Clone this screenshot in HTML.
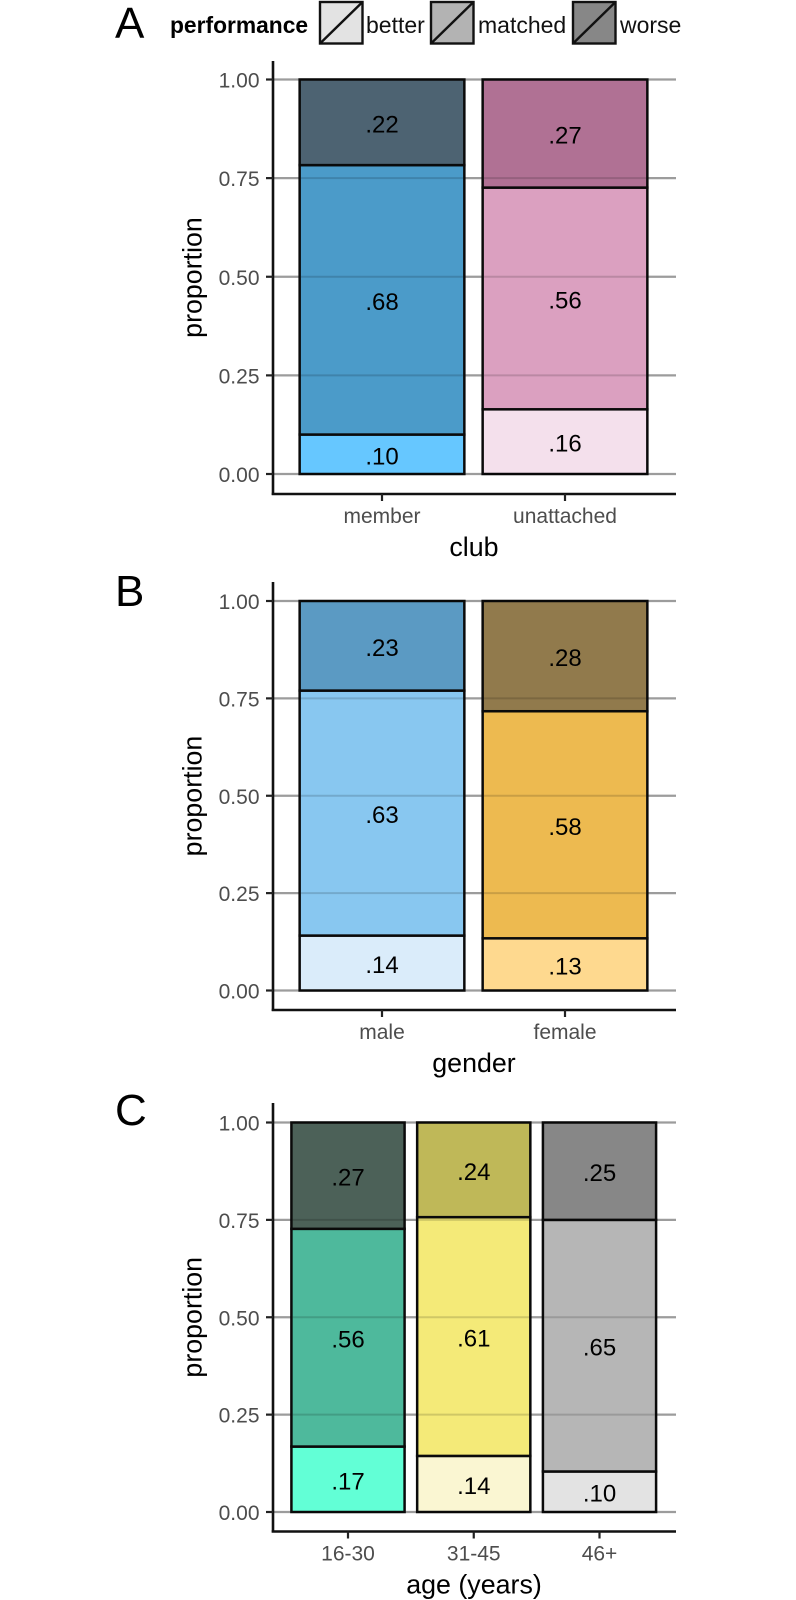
<!DOCTYPE html>
<html lang="en">
<head>
<meta charset="utf-8">
<title>Performance proportions by club, gender and age</title>
<style>
html,body{margin:0;padding:0;background:#fff;}
svg{display:block;font-family:"Liberation Sans",Arial,sans-serif;}
</style>
</head>
<body>
<svg id="chart" xmlns="http://www.w3.org/2000/svg" width="796" height="1600" viewBox="0 0 796 1600">
  <rect x="0" y="0" width="796" height="1600" fill="#ffffff"/>
  <g>
    <text x="170" y="33" font-size="22.8" font-weight="bold" fill="#000">performance</text>
    <g>
      <rect x="320" y="2" width="42.5" height="41.5" fill="#e3e3e3" stroke="#111" stroke-width="2.4"/>
      <line x1="320" y1="43.5" x2="362.5" y2="2" stroke="#111" stroke-width="2.4"/>
      <text x="366" y="33" font-size="23" fill="#111">better</text>
    </g>
    <g>
      <rect x="431" y="2" width="42.5" height="41.5" fill="#b3b3b3" stroke="#111" stroke-width="2.4"/>
      <line x1="431" y1="43.5" x2="473.5" y2="2" stroke="#111" stroke-width="2.4"/>
      <text x="478" y="33" font-size="23" fill="#111">matched</text>
    </g>
    <g>
      <rect x="573" y="2" width="42.5" height="41.5" fill="#878787" stroke="#111" stroke-width="2.4"/>
      <line x1="573" y1="43.5" x2="615.5" y2="2" stroke="#111" stroke-width="2.4"/>
      <text x="620" y="33" font-size="23" fill="#111">worse</text>
    </g>
  </g>
</svg>
<script>
// Tick labels shared by all panels
const yTickValues = [0, 0.25, 0.5, 0.75, 1];
const yTickLabels = ["0.00", "0.25", "0.50", "0.75", "1.00"];

// Panel A: club
const clubCategories = ["member", "unattached"];
const clubBetter = [0.100, 0.164];
const clubMatched = [0.683, 0.562];
const clubWorse = [0.217, 0.274];

// Panel B: gender
const genderCategories = ["male", "female"];
const genderBetter = [0.141, 0.134];
const genderMatched = [0.629, 0.583];
const genderWorse = [0.230, 0.283];

// Panel C: age
const ageCategories = ["16-30", "31-45", "46+"];
const ageBetter = [0.168, 0.144, 0.104];
const ageMatched = [0.559, 0.613, 0.646];
const ageWorse = [0.273, 0.243, 0.250];

const NS = "http://www.w3.org/2000/svg";
const svg = document.getElementById("chart");

function el(parent, tag, props, text) {
  const node = document.createElementNS(NS, tag);
  for (const key in props) node.setAttribute(key, props[key]);
  if (text !== undefined) node.textContent = text;
  parent.appendChild(node);
  return node;
}

function formatProportion(v) {
  return v.toFixed(2).replace(/^0/, "");
}

function drawPanel(cfg) {
  const yScale = v => cfg.y0 + (cfg.y1 - cfg.y0) * v;
  const step = (cfg.xLast - cfg.xFirst) / Math.max(cfg.categories.length - 1, 1);
  const xScale = i => cfg.xFirst + step * i;
  const barWidth = step * cfg.barRatio;
  const axisX = 273;
  const gridEnd = 676;

  const panel = el(svg, "g", {});
  
  

  const letter = el(panel, "text", { x: cfg.letterX, y: cfg.letterY, "font-size": 44, fill: "#000" }, cfg.letter);
  
  

  // Gridlines underneath the bars
  yTickValues.forEach((v) => {
    const grid = el(panel, "line", { x1: axisX, x2: gridEnd, y1: yScale(v), y2: yScale(v), stroke: "#9c9c9c", "stroke-width": 2.2 });
    
    
  });

  // Stacked bars
  cfg.categories.forEach((cat, i) => {
    const stack = [
      { name: "better", value: cfg.better[i], fill: cfg.colors[i][0] },
      { name: "matched", value: cfg.matched[i], fill: cfg.colors[i][1] },
      { name: "worse", value: cfg.worse[i], fill: cfg.colors[i][2] }
    ];
    let base = 0;
    stack.forEach((seg) => {
      const top = base + seg.value;
      const rect = el(panel, "rect", {
        x: xScale(i) - barWidth / 2,
        y: yScale(top),
        width: barWidth,
        height: yScale(base) - yScale(top),
        fill: seg.fill,
        stroke: "#0a0a0a",
        "stroke-width": 2.5
      });
      
      
      base = top;
    });
  });

  // Gridlines showing faintly through the translucent bars
  yTickValues.forEach((v) => {
    cfg.categories.forEach((cat, i) => {
      const overlay = el(panel, "line", {
        x1: xScale(i) - barWidth / 2 + 1.25,
        x2: xScale(i) + barWidth / 2 - 1.25,
        y1: yScale(v), y2: yScale(v),
        stroke: "rgba(0,0,0,0.15)", "stroke-width": 2
      });
      
      
    });
  });

  // Printed values
  cfg.categories.forEach((cat, i) => {
    let base = 0;
    [cfg.better[i], cfg.matched[i], cfg.worse[i]].forEach((value) => {
      const mid = base + value / 2;
      const label = el(panel, "text", {
        x: xScale(i), y: yScale(mid) + 10, "font-size": 24, "text-anchor": "middle", fill: "#000"
      }, formatProportion(value));
      
      
      base += value;
    });
  });

  // Y axis
  const yAxis = el(panel, "line", { x1: axisX, x2: axisX, y1: cfg.axisTop, y2: cfg.axisBottom + 1, stroke: "#111", "stroke-width": 2.6 });
  
  

  yTickValues.forEach((v, i) => {
    const tick = el(panel, "line", { x1: 266, x2: axisX, y1: yScale(v), y2: yScale(v), stroke: "#222", "stroke-width": 2.2 });
    
    
    const tickLabel = el(panel, "text", { x: 259.5, y: yScale(v) + 8, "font-size": 21, "text-anchor": "end", fill: "#4d4d4d" }, yTickLabels[i]);
    
    
  });

  // X axis
  const xAxis = el(panel, "line", { x1: axisX - 1.3, x2: gridEnd, y1: cfg.axisBottom, y2: cfg.axisBottom, stroke: "#111", "stroke-width": 2.6 });
  
  

  cfg.categories.forEach((cat, i) => {
    const tick = el(panel, "line", { x1: xScale(i), x2: xScale(i), y1: cfg.axisBottom, y2: cfg.axisBottom + 7, stroke: "#222", "stroke-width": 2.2 });
    
    
    const tickLabel = el(panel, "text", { x: xScale(i), y: cfg.axisBottom + 29, "font-size": 21, "text-anchor": "middle", fill: "#4d4d4d" }, cat);
    
    
  });

  const xTitle = el(panel, "text", { x: 474, y: cfg.axisBottom + 62, "font-size": 26.8, "text-anchor": "middle", fill: "#000" }, cfg.xTitle);
  
  

  const midY = (cfg.axisTop + cfg.axisBottom) / 2;
  const yTitle = el(panel, "text", { transform: "translate(201.5," + midY + ") rotate(-90)", "font-size": 26.8, "text-anchor": "middle", fill: "#000" }, "proportion");
  
  
}

drawPanel({
  id: "a", letter: "A", letterX: 115, letterY: 38, xTitle: "club",
  categories: clubCategories, better: clubBetter, matched: clubMatched, worse: clubWorse,
  colors: [["#66c7ff", "#4b9bc9", "#4d6372"], ["#f4e0ec", "#dba0c0", "#b07194"]],
  y0: 474, y1: 79.5, axisTop: 61, axisBottom: 494, xFirst: 382, xLast: 565, barRatio: 0.9
});
drawPanel({
  id: "b", letter: "B", letterX: 115, letterY: 606, xTitle: "gender",
  categories: genderCategories, better: genderBetter, matched: genderMatched, worse: genderWorse,
  colors: [["#daecfa", "#88c7f0", "#5b9ac3"], ["#fed98f", "#edba50", "#917a4c"]],
  y0: 990.5, y1: 601, axisTop: 582, axisBottom: 1010, xFirst: 382, xLast: 565, barRatio: 0.9
});
drawPanel({
  id: "c", letter: "C", letterX: 115, letterY: 1125, xTitle: "age (years)",
  categories: ageCategories, better: ageBetter, matched: ageMatched, worse: ageWorse,
  colors: [["#62ffd6", "#4eb99c", "#4c6158"], ["#faf6d2", "#f4ea78", "#bfb858"], ["#e3e3e3", "#b6b6b6", "#878787"]],
  y0: 1512, y1: 1122.5, axisTop: 1103, axisBottom: 1531.5, xFirst: 348, xLast: 599.5, barRatio: 0.9
});
</script>
</body>
</html>
